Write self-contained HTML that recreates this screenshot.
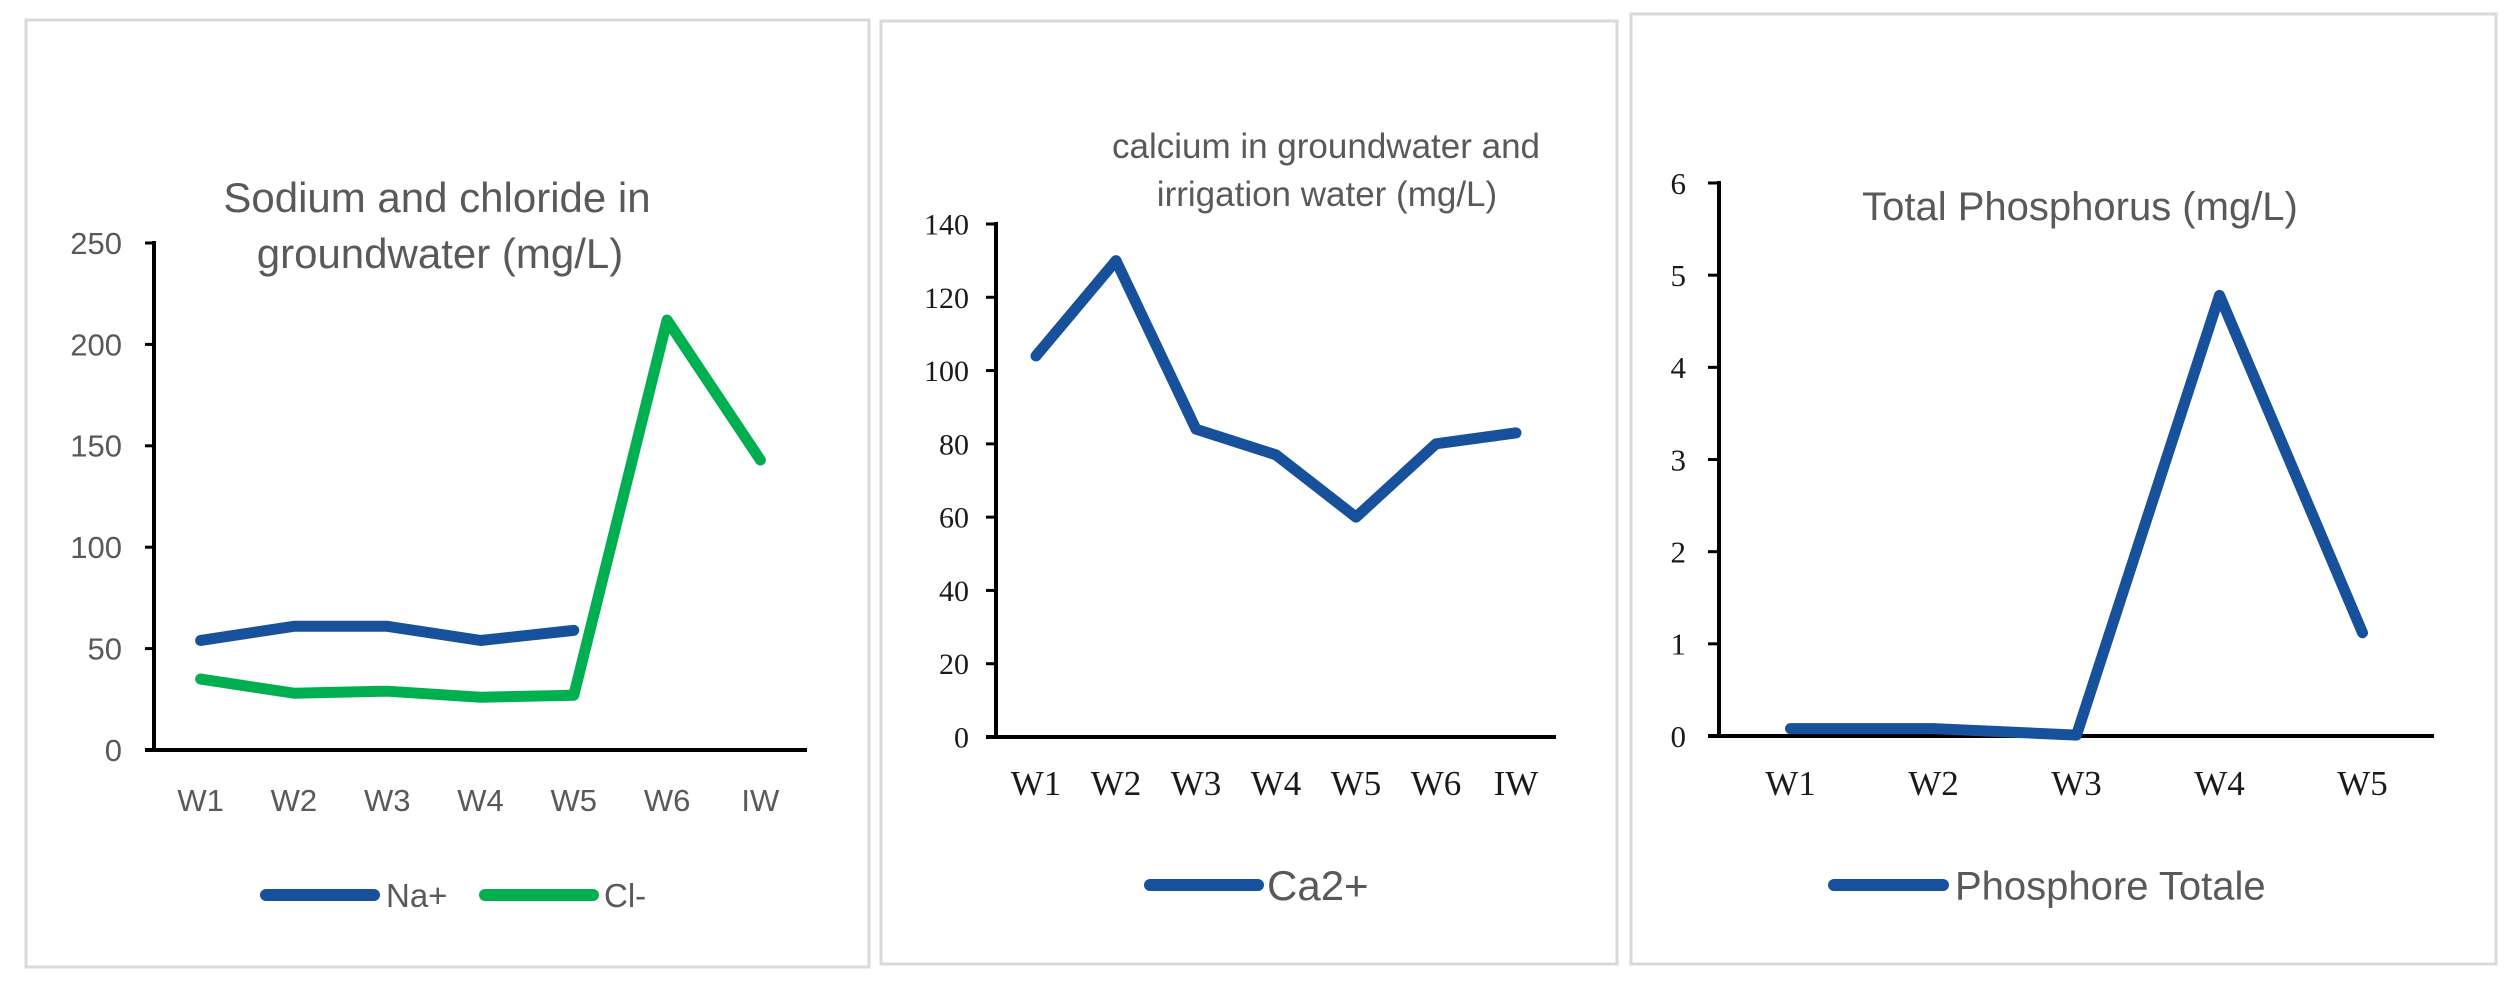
<!DOCTYPE html>
<html><head><meta charset="utf-8">
<style>
html,body{margin:0;padding:0;background:#fff;}
svg{display:block;}
.sans{font-family:"Liberation Sans",sans-serif;fill:#595959;}
.serif{font-family:"Liberation Serif",serif;fill:#1a1a1a;}
</style></head>
<body>
<svg id="root" width="2515" height="988" viewBox="0 0 2515 988" xmlns="http://www.w3.org/2000/svg">
<rect x="0" y="0" width="2515" height="988" fill="#fff"/>
<g id="p1"></g>
<g id="p2"></g>
<g id="p3"></g>
</svg>
<script>
// Panel 1 data
const cats1 = ["W1","W2","W3","W4","W5","W6","IW"];
const na1 = [54, 61, 61, 54, 59];
const cl1 = [35, 28, 29, 26, 27, 212, 143];
const ticks1 = [0, 50, 100, 150, 200, 250];
// Panel 2 data
const cats2 = ["W1","W2","W3","W4","W5","W6","IW"];
const ca2 = [104, 130, 84, 77, 60, 80, 83];
const ticks2 = [0, 20, 40, 60, 80, 100, 120, 140];
// Panel 3 data
const cats3 = ["W1","W2","W3","W4","W5"];
const p3 = [0.08, 0.08, 0.01, 4.78, 1.12];
const ticks3 = [0, 1, 2, 3, 4, 5, 6];

const NS = "http://www.w3.org/2000/svg";
const BLUE = "#18519b", GREEN = "#00b050";
function mk(parent, tag, attrs, text) {
  const e = document.createElementNS(NS, tag);
  for (const k in attrs) e.setAttribute(k, attrs[k]);
  if (text !== undefined) e.textContent = text;
  parent.appendChild(e);
  return e;
}

function panel(g, cfg) {
  const b = mk(g, "rect", {x:cfg.bx, y:cfg.by, width:cfg.bw, height:cfg.bh, fill:"#fff", stroke:"#d9d9d9", "stroke-width":3});
  
  
  const ymax = cfg.ticks[cfg.ticks.length-1];
  const yS = v => cfg.y0 - (v / ymax) * (cfg.y0 - cfg.yTop);
  const bw = (cfg.xEnd - cfg.ax) / cfg.cats.length;
  const xS = i => cfg.ax + bw * (i + 0.5);
  cfg.ticks.forEach(t => {
    const tl = mk(g, "line", {x1:cfg.tickL, x2:cfg.ax, y1:yS(t), y2:yS(t), stroke:"#000", "stroke-width":3});
    
    
    const tx = mk(g, "text", {x:cfg.labR, y:yS(t) + cfg.tickFs*0.35, "text-anchor":"end", class:cfg.tickClass, "font-size":cfg.tickFs}, String(t));
    
    
  });
  const ya = mk(g, "line", {x1:cfg.ax, x2:cfg.ax, y1:cfg.yTop-2, y2:cfg.y0+1.5, stroke:"#000", "stroke-width":4});
  
  
  const xa = mk(g, "line", {x1:cfg.tickL, x2:cfg.xEnd, y1:cfg.y0, y2:cfg.y0, stroke:"#000", "stroke-width":4});
  
  
  cfg.cats.forEach((c, i) => {
    const t = mk(g, "text", {x:xS(i), y:cfg.xlabY, "text-anchor":"middle", class:cfg.xClass, "font-size":cfg.xFs}, c);
    
    
  });
  cfg.series.forEach(s => {
    const pts = s.values.map((v, i) => xS(i) + "," + yS(v)).join(" ");
    const pl = mk(g, "polyline", {points:pts, fill:"none", stroke:s.color, "stroke-width":11, "stroke-linejoin":"round", "stroke-linecap":"round"});
    
    
  });
  cfg.title.forEach(tl => {
    const t = mk(g, "text", {x:tl.x, y:tl.y, "text-anchor":"middle", class:"sans", "font-size":tl.fs}, tl.text);
    
    
  });
  cfg.legend.forEach(l => {
    const ln = mk(g, "line", {x1:l.x1, x2:l.x2, y1:l.y, y2:l.y, stroke:l.color, "stroke-width":12, "stroke-linecap":"round"});
    
    
    const t = mk(g, "text", {x:l.tx, y:l.y + l.fs*0.36, class:"sans", "font-size":l.fs}, l.text);
    
    
  });
}

panel(document.getElementById("p1"), {
  bx:26, by:20, bw:843, bh:947,
  ax:154, xEnd:807, y0:750, yTop:243, tickL:145, labR:122,
  ticks:ticks1, tickClass:"sans", tickFs:31,
  cats:cats1, xClass:"sans", xFs:31, xlabY:811,
  series:[{name:"na", values:na1, color:BLUE},{name:"cl", values:cl1, color:GREEN}],
  title:[{x:437, y:212, fs:42, text:"Sodium and chloride in"},{x:440, y:268, fs:42, text:"groundwater  (mg/L)"}],
  legend:[{x1:266,x2:374,y:895,color:BLUE,tx:386,fs:33,text:"Na+"},{x1:485,x2:593,y:895,color:GREEN,tx:604,fs:33,text:"Cl-"}]
});
panel(document.getElementById("p2"), {
  bx:881, by:21, bw:736, bh:943,
  ax:996, xEnd:1556, y0:737, yTop:224, tickL:986, labR:969,
  ticks:ticks2, tickClass:"serif", tickFs:30,
  cats:cats2, xClass:"serif", xFs:35, xlabY:795,
  series:[{name:"ca", values:ca2, color:BLUE}],
  title:[{x:1326, y:158, fs:35, text:"calcium in groundwater and"},{x:1327, y:206, fs:35, text:"irrigation water (mg/L)"}],
  legend:[{x1:1150,x2:1258,y:885,color:BLUE,tx:1267,fs:42,text:"Ca2+"}]
});
panel(document.getElementById("p3"), {
  bx:1631, by:14, bw:865, bh:950,
  ax:1719, xEnd:2434, y0:736, yTop:183, tickL:1708, labR:1686,
  ticks:ticks3, tickClass:"serif", tickFs:31,
  cats:cats3, xClass:"serif", xFs:35, xlabY:795,
  series:[{name:"phosphorus", values:p3, color:BLUE}],
  title:[{x:2080, y:220, fs:40, text:"Total Phosphorus (mg/L)"}],
  legend:[{x1:1834,x2:1943,y:885,color:BLUE,tx:1955,fs:40,text:"Phosphore Totale"}]
});
</script>
</body></html>
